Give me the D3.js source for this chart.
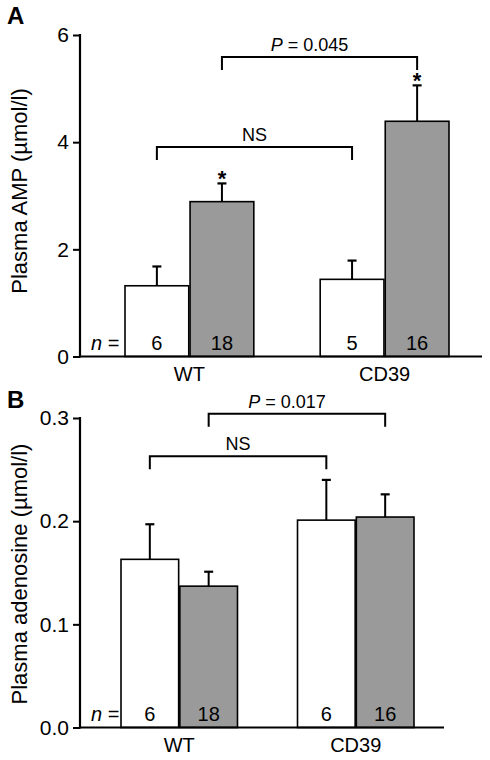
<!DOCTYPE html>
<html>
<head>
<meta charset="utf-8">
<script src="https://cdn.jsdelivr.net/npm/d3@7"></script>
<style>
  html, body { margin: 0; padding: 0; background: #fff; }
  svg { display: block; font-family: "Liberation Sans", Arial, Helvetica, sans-serif; }
</style>
</head>
<body>
<svg id="chart" width="490" height="760"></svg>
<script>
// ---------- DATA ----------
const groups = ["WT", "CD39"];
const series = ["white", "gray"];

// Panel A: Plasma AMP (µmol/l)
const ampWhite = [1.32, 1.44];
const ampWhiteErr = [0.36, 0.35];
const ampGray = [2.89, 4.39];
const ampGrayErr = [0.34, 0.67];
const ampNWhite = [6, 5];
const ampNGray = [18, 16];
const ampStarGray = [true, true];
const ampTicks = [0, 2, 4, 6];
const ampBrackets = [
  { from: ["WT", "white"], to: ["CD39", "white"], level: 3.91, label: "NS" },
  { from: ["WT", "gray"], to: ["CD39", "gray"], level: 5.59, label: "P = 0.045" }
];

// Panel B: Plasma adenosine (µmol/l)
const adoWhite = [0.163, 0.201];
const adoWhiteErr = [0.034, 0.039];
const adoGray = [0.137, 0.204];
const adoGrayErr = [0.014, 0.022];
const adoNWhite = [6, 6];
const adoNGray = [18, 16];
const adoStarGray = [false, false];
const adoTicks = [0, 0.1, 0.2, 0.3];
const adoBrackets = [
  { from: ["WT", "white"], to: ["CD39", "white"], level: 0.263, label: "NS" },
  { from: ["WT", "gray"], to: ["CD39", "gray"], level: 0.304, label: "P = 0.017" }
];

// ---------- DRAW ----------
const svg = d3.select("#chart");
const fills = { white: "#ffffff", gray: "#9a9a9a" };

function drawPanel(cfg) {
  const g = svg.append("g");
  const y = d3.scaleLinear().domain(cfg.domain).range([cfg.bottom, cfg.top]);
  const x0 = d3.scaleBand().domain(groups).range(cfg.barRange).paddingInner(0.34).paddingOuter(0);
  const x1 = d3.scaleBand().domain(series).range([0, x0.bandwidth()]).paddingInner(0.02).paddingOuter(0);

  const bars = [];
  groups.forEach((grp, i) => {
    bars.push({ grp, s: "white", v: cfg.white[i], e: cfg.whiteErr[i], n: cfg.nWhite[i], star: false });
    bars.push({ grp, s: "gray", v: cfg.gray[i], e: cfg.grayErr[i], n: cfg.nGray[i], star: cfg.starGray[i] });
  });
  const cx = (grp, s) => x0(grp) + x1(s) + x1.bandwidth() / 2;

  // error bars (behind bars)
  bars.forEach(b => {
    const xc = cx(b.grp, b.s);
    g.append("line").attr("x1", xc).attr("x2", xc).attr("y1", y(b.v)).attr("y2", y(b.v + b.e))
      .attr("stroke", "#000").attr("stroke-width", 2);
    g.append("line").attr("x1", xc - 4.5).attr("x2", xc + 4.5).attr("y1", y(b.v + b.e)).attr("y2", y(b.v + b.e))
      .attr("stroke", "#000").attr("stroke-width", 2.2);
  });

  // bars
  g.selectAll("rect.bar").data(bars).join("rect").attr("class", "bar")
    .attr("x", d => x0(d.grp) + x1(d.s))
    .attr("width", x1.bandwidth())
    .attr("y", d => y(d.v))
    .attr("height", d => y(0) - y(d.v))
    .attr("fill", d => fills[d.s])
    .attr("stroke", "#000").attr("stroke-width", 1.6);

  // n numbers
  g.selectAll("text.n").data(bars).join("text").attr("class", "n")
    .attr("x", d => cx(d.grp, d.s))
    .attr("y", y(0) - 7)
    .attr("text-anchor", "middle")
    .attr("font-size", 20)
    .text(d => d.n);

  const nt = g.append("text").attr("x", 91).attr("y", y(0) - 7).attr("font-size", 20);
  nt.append("tspan").attr("font-style", "italic").text("n");
  nt.append("tspan").text(" =");

  // asterisks
  bars.filter(b => b.star).forEach(b => {
    g.append("text").attr("x", cx(b.grp, b.s)).attr("y", y(b.v + b.e) + 3)
      .attr("text-anchor", "middle").attr("font-size", 22).attr("font-weight", "bold").text("*");
  });

  // y axis
  const yAxis = d3.axisLeft(y).tickValues(cfg.ticks).tickSize(7).tickPadding(4)
    .tickFormat(cfg.tickFormat);
  const ya = g.append("g").attr("transform", `translate(${cfg.left},0)`).call(yAxis);
  ya.select(".domain").remove();
  ya.selectAll(".tick line").attr("stroke", "#000").attr("stroke-width", 2);
  ya.selectAll(".tick text").attr("font-size", 21).attr("font-family", "Liberation Sans, Arial, sans-serif").attr("fill", "#000");
  g.append("line").attr("x1", cfg.left).attr("x2", cfg.left).attr("y1", y(cfg.domain[1]) - 1).attr("y2", y(0) + 1)
    .attr("stroke", "#000").attr("stroke-width", 2.2);

  // x axis
  g.append("line").attr("x1", cfg.left).attr("x2", cfg.xEnd).attr("y1", y(0)).attr("y2", y(0))
    .attr("stroke", "#000").attr("stroke-width", 2.2);
  groups.forEach(grp => {
    g.append("text").attr("x", x0(grp) + x0.bandwidth() / 2).attr("y", y(0) + 24)
      .attr("text-anchor", "middle").attr("font-size", 20).text(grp);
  });

  // y title
  g.append("text").attr("transform", `translate(27,${cfg.titleY}) rotate(-90)`)
    .attr("text-anchor", "middle").attr("font-size", 22).text(cfg.title);

  // panel letter
  g.append("text").attr("x", 7).attr("y", cfg.letterY).attr("font-size", 24).attr("font-weight", "bold")
    .attr("font-family", "Liberation Sans, Arial, sans-serif").text(cfg.letter);

  // brackets
  cfg.brackets.forEach(br => {
    const xa = cx(br.from[0], br.from[1]);
    const xb = cx(br.to[0], br.to[1]);
    const yl = y(br.level);
    g.append("path").attr("d", `M${xa},${yl + 13}V${yl}H${xb}V${yl + 13}`)
      .attr("fill", "none").attr("stroke", "#000").attr("stroke-width", 2);
    const t = g.append("text").attr("x", (xa + xb) / 2 - (br.label === "NS" ? 0 : 10)).attr("y", yl - 6)
      .attr("text-anchor", "middle").attr("font-size", 18);
    if (br.label.startsWith("P")) {
      t.append("tspan").attr("font-style", "italic").text("P");
      t.append("tspan").text(br.label.slice(1));
    } else {
      t.text(br.label);
    }
  });
}

drawPanel({
  domain: [0, 6], top: 35, bottom: 356.5, left: 80, xEnd: 482, barRange: [125, 449],
  white: ampWhite, whiteErr: ampWhiteErr, gray: ampGray, grayErr: ampGrayErr,
  nWhite: ampNWhite, nGray: ampNGray, starGray: ampStarGray,
  ticks: ampTicks, tickFormat: d3.format("d"), brackets: ampBrackets,
  title: "Plasma AMP (µmol/l)", titleY: 191, letter: "A", letterY: 24
});

drawPanel({
  domain: [0, 0.3], top: 418, bottom: 727.5, left: 80, xEnd: 444, barRange: [121, 414],
  white: adoWhite, whiteErr: adoWhiteErr, gray: adoGray, grayErr: adoGrayErr,
  nWhite: adoNWhite, nGray: adoNGray, starGray: adoStarGray,
  ticks: adoTicks, tickFormat: d3.format(".1f"), brackets: adoBrackets,
  title: "Plasma adenosine (µmol/l)", titleY: 574, letter: "B", letterY: 408
});
</script>
</body>
</html>
